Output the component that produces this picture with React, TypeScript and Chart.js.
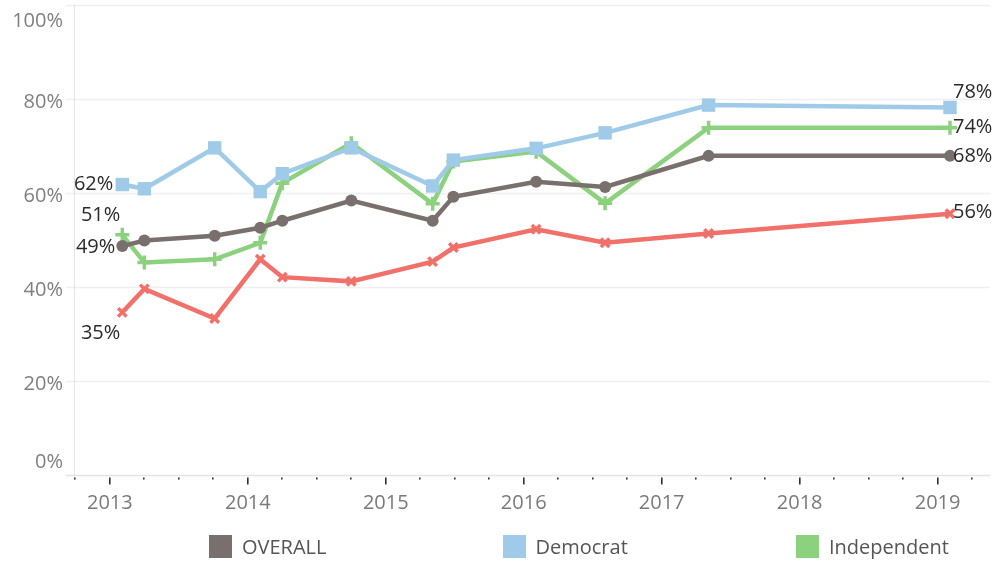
import React, { useEffect, useRef } from "react";
import { Chart, registerables } from "chart.js";

Chart.register(...registerables);

// ---- data ----
const surveyDates = [2013.09, 2013.25, 2013.76, 2014.09, 2014.25, 2014.75, 2015.34, 2015.49, 2016.09, 2016.59, 2017.34, 2019.09];
const overallValues = [48.7, 49.9, 50.9, 52.6, 54.1, 58.4, 54.1, 59.2, 62.4, 61.3, 67.9, 67.9];
const democratValues = [61.8, 60.9, 69.6, 60.3, 64.1, 69.6, 61.5, 67.0, 69.5, 72.8, 78.7, 78.2];
const independentValues = [51.1, 45.2, 45.9, 49.4, 62.1, 70.6, 57.7, 66.7, 68.8, 57.8, 73.9, 73.9];
const republicanValues = [34.6, 39.6, 33.3, 45.9, 42.1, 41.2, 45.4, 48.4, 52.3, 49.4, 51.4, 55.6];
const yTickValues = [0, 20, 40, 60, 80, 100];
const xYearTicks = [2013, 2014, 2015, 2016, 2017, 2018, 2019];
const legendLabels = ["OVERALL", "Democrat", "Independent"];

const COLORS: Record<string, string> = {
  OVERALL: "#79706e",
  Democrat: "#a0cbe8",
  Independent: "#8cd17d",
  Republican: "#f1706a",
};

const FONT = "'Open Sans', sans-serif";

const toPoints = (vals: number[]) => vals.map((v, i) => ({ x: surveyDates[i], y: v }));

const labelSpecs = [
  { ds: "Democrat", which: "first", dx: -9, dy: 0, align: "right" },
  { ds: "Independent", which: "first", dx: -2, dy: -20, align: "right" },
  { ds: "OVERALL", which: "first", dx: -7, dy: 1, align: "right" },
  { ds: "Republican", which: "first", dx: -2, dy: 21, align: "right" },
  { ds: "Democrat", which: "last", dx: 3, dy: -15, align: "left" },
  { ds: "Independent", which: "last", dx: 3, dy: 0, align: "left" },
  { ds: "OVERALL", which: "last", dx: 3, dy: 0, align: "left" },
  { ds: "Republican", which: "last", dx: 3, dy: -1, align: "left" },
];

const axesPlugin = {
  id: "tableauAxes",
  beforeDatasetsDraw(chart: any) {
    const { ctx, chartArea, scales } = chart;
    const xs = scales.x;
    const ys = scales.y;
    ctx.save();
    ctx.strokeStyle = "#efefef";
    ctx.lineWidth = 1.5;
    yTickValues.forEach((v) => {
      if (v === 0) return;
      const y = Math.round(ys.getPixelForValue(v)) + 0.5;
      ctx.beginPath();
      ctx.moveTo(chartArea.left - 8, y);
      ctx.lineTo(chartArea.right, y);
      ctx.stroke();
    });
    ctx.strokeStyle = "#e4e4e4";
    ctx.lineWidth = 1;
    ctx.beginPath();
    ctx.moveTo(chartArea.left + 0.5, chartArea.top);
    ctx.lineTo(chartArea.left + 0.5, chartArea.bottom);
    ctx.stroke();
    const yb = Math.round(ys.getPixelForValue(0)) + 0.5;
    ctx.strokeStyle = "#e4e4e4";
    ctx.lineWidth = 1.5;
    ctx.beginPath();
    ctx.moveTo(chartArea.left - 8, yb);
    ctx.lineTo(chartArea.right, yb);
    ctx.stroke();
    ctx.fillStyle = "#333";
    const start = xYearTicks[0] - 1;
    const end = xYearTicks[xYearTicks.length - 1] + 1;
    for (let q = start * 4; q <= end * 4; q++) {
      const yr = q / 4;
      if (yr < xs.min || yr > xs.max) continue;
      const px = Math.round(xs.getPixelForValue(yr));
      if (q % 4 === 0) {
        ctx.fillRect(px - 1, yb + 2, 1.6, 7);
      } else {
        ctx.fillRect(px - 1, yb + 2, 1.6, 2);
      }
    }
    ctx.fillStyle = "#7f7f7f";
    ctx.font = `20px ${FONT}`;
    ctx.textAlign = "right";
    ctx.textBaseline = "middle";
    yTickValues.forEach((v) => {
      let y = ys.getPixelForValue(v);
      if (v === 100) y += 16;
      else if (v === 0) y -= 13;
      else y += 3;
      ctx.fillText(`${v}%`, chartArea.left - 11, y);
    });
    ctx.font = `20px ${FONT}`;
    ctx.textAlign = "center";
    ctx.fillStyle = "#7a7a7a";
    xYearTicks.forEach((yr) => {
      ctx.fillText(String(yr), xs.getPixelForValue(yr), yb + 28);
    });
    ctx.restore();
  },
  afterDatasetsDraw(chart: any) {
    const { ctx } = chart;
    ctx.save();
    ctx.font = `20px ${FONT}`;
    ctx.fillStyle = "#2a2a2a";
    ctx.textBaseline = "middle";
    labelSpecs.forEach((s) => {
      const dsIndex = chart.data.datasets.findIndex((d: any) => d.label === s.ds);
      if (dsIndex < 0) return;
      const meta = chart.getDatasetMeta(dsIndex);
      const data = chart.data.datasets[dsIndex].data as any[];
      const idx = s.which === "first" ? 0 : data.length - 1;
      const el = meta.data[idx];
      ctx.textAlign = s.align;
      ctx.fillText(`${Math.round(data[idx].y)}%`, el.x + s.dx, el.y + s.dy);
    });
    ctx.restore();
  },
};

export default function App() {
  const canvasRef = useRef<HTMLCanvasElement | null>(null);

  useEffect(() => {
    if (!canvasRef.current) return;
    const lineDs = (label: string, values: number[], pointStyle: string, radius: number, pbw: number) => ({
      label,
      data: toPoints(values),
      borderColor: COLORS[label],
      backgroundColor: COLORS[label],
      pointBackgroundColor: COLORS[label],
      pointBorderColor: COLORS[label],
      borderWidth: 4.5,
      pointStyle,
      pointRadius: radius,
      pointHoverRadius: radius,
      pointBorderWidth: pbw,
      tension: 0,
    });
    const chart = new Chart(canvasRef.current, {
      type: "line",
      data: {
        datasets: [
          lineDs("Democrat", democratValues, "rect", 9.5, 0),
          lineDs("OVERALL", overallValues, "circle", 6, 0),
          lineDs("Independent", independentValues, "cross", 7, 3.5),
          lineDs("Republican", republicanValues, "crossRot", 6, 3.5),
        ] as any,
      },
      options: {
        animation: false,
        responsive: false,
        maintainAspectRatio: false,
        layout: { autoPadding: false, padding: { left: 74, top: 5, right: 2, bottom: 86 } },
        plugins: { legend: { display: false }, tooltip: { enabled: false } },
        scales: {
          x: {
            type: "linear",
            min: 2012.74,
            max: 2019.38,
            grid: { display: false, drawTicks: false },
            border: { display: false },
            ticks: { display: false },
          },
          y: {
            min: 0,
            max: 100,
            grid: { display: false, drawTicks: false },
            border: { display: false },
            ticks: { display: false },
          },
        },
      },
      plugins: [axesPlugin],
    });
    return () => chart.destroy();
  }, []);

  return (
    <div style={{ position: "absolute", left: 0, top: 0, width: 992, height: 561, background: "#fff", overflow: "hidden" }}>
      <canvas ref={canvasRef} width={992} height={561} style={{ width: 992, height: 561, display: "block" }} />
      {legendLabels.map((lab, i) => (
        <div
          key={lab}
          style={{
            position: "absolute",
            left: 209 + i * 293.5,
            top: 535,
            height: 23,
            display: "flex",
            alignItems: "center",
            fontFamily: FONT,
            fontSize: 20,
            color: "#555",
            whiteSpace: "nowrap",
          }}
        >
          <span style={{ display: "inline-block", width: 23, height: 23, background: COLORS[lab], marginRight: 10 }} />
          <span>{lab}</span>
        </div>
      ))}
    </div>
  );
}
